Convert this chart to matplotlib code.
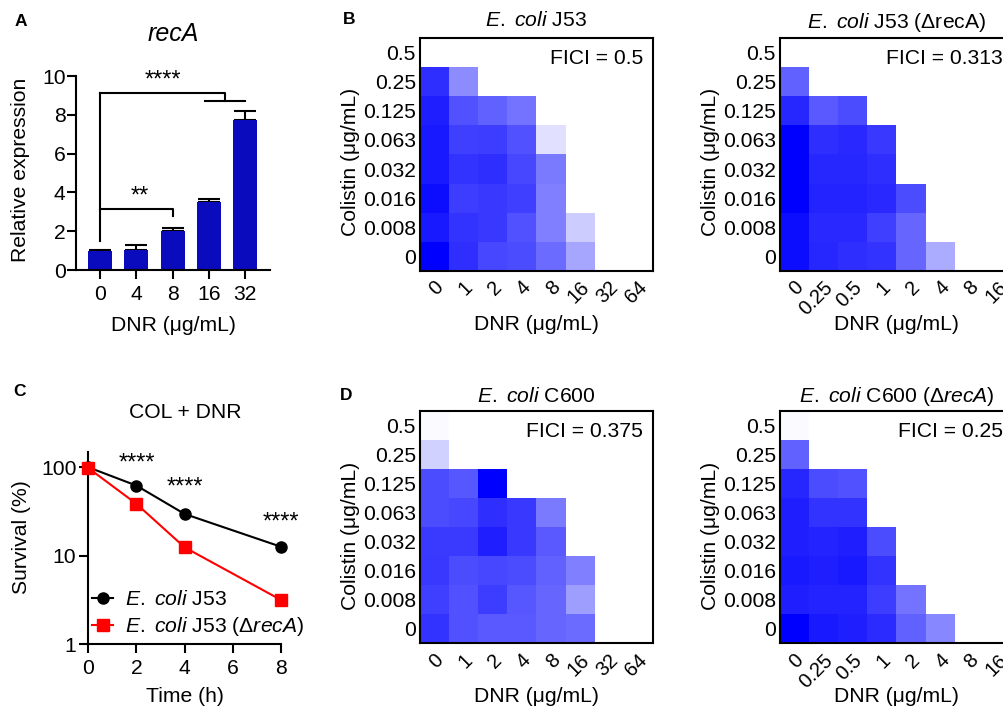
import numpy as np
import matplotlib
matplotlib.use('Agg')
import matplotlib.pyplot as plt
import matplotlib.transforms as mtransforms
from matplotlib.colors import LinearSegmentedColormap

plt.rcParams['font.family'] = ['Liberation Sans', 'DejaVu Sans']
plt.rcParams['mathtext.fontset'] = 'custom'
plt.rcParams['mathtext.rm'] = 'Liberation Sans'
plt.rcParams['mathtext.it'] = 'Liberation Sans:italic'
plt.rcParams['mathtext.bf'] = 'Liberation Sans:bold'
plt.rcParams['font.size'] = 15.2

# panel A: recA expression
dnr_a = ['0', '4', '8', '16', '32']
recA_mean = [1.0, 1.02, 2.0, 3.5, 7.75]
recA_err = [0.03, 0.26, 0.14, 0.17, 0.45]

# panel C: survival
time_h = [0, 2, 4, 8]
surv_j53 = [100, 62, 29.6, 12.6]
surv_reca = [98, 38.5, 12.4, 3.15]

# checkerboards (rows listed top -> bottom, 0 = no growth, 1 = full)
col_labels = ['0.5', '0.25', '0.125', '0.063', '0.032', '0.016', '0.008', '0']
dnr_wt = ['0', '1', '2', '4', '8', '16', '32', '64']
dnr_reca = ['0', '0.25', '0.5', '1', '2', '4', '8', '16']

growth_j53 = [
    [0, 0, 0, 0, 0, 0, 0, 0],
    [0.82, 0.45, 0, 0, 0, 0, 0, 0],
    [0.88, 0.68, 0.62, 0.55, 0, 0, 0, 0],
    [0.90, 0.75, 0.76, 0.68, 0.12, 0, 0, 0],
    [0.90, 0.80, 0.82, 0.72, 0.52, 0, 0, 0],
    [0.95, 0.76, 0.78, 0.75, 0.50, 0, 0, 0],
    [0.90, 0.80, 0.78, 0.68, 0.50, 0.20, 0, 0],
    [1.00, 0.82, 0.72, 0.70, 0.58, 0.35, 0, 0],
]
growth_j53_reca = [
    [0, 0, 0, 0, 0, 0, 0, 0],
    [0.62, 0, 0, 0, 0, 0, 0, 0],
    [0.85, 0.65, 0.70, 0, 0, 0, 0, 0],
    [1.00, 0.82, 0.84, 0.78, 0, 0, 0, 0],
    [1.00, 0.85, 0.85, 0.82, 0, 0, 0, 0],
    [1.00, 0.86, 0.86, 0.84, 0.70, 0, 0, 0],
    [0.95, 0.84, 0.84, 0.75, 0.60, 0, 0, 0],
    [0.95, 0.85, 0.82, 0.80, 0.60, 0.33, 0, 0],
]
growth_c600 = [
    [0.02, 0, 0, 0, 0, 0, 0, 0],
    [0.18, 0, 0, 0, 0, 0, 0, 0],
    [0.70, 0.66, 1.00, 0, 0, 0, 0, 0],
    [0.70, 0.72, 0.82, 0.78, 0.52, 0, 0, 0],
    [0.77, 0.77, 0.88, 0.78, 0.65, 0, 0, 0],
    [0.78, 0.70, 0.72, 0.70, 0.62, 0.50, 0, 0],
    [0.75, 0.68, 0.76, 0.66, 0.60, 0.38, 0, 0],
    [0.80, 0.68, 0.65, 0.65, 0.60, 0.58, 0, 0],
]
growth_c600_reca = [
    [0.02, 0, 0, 0, 0, 0, 0, 0],
    [0.62, 0, 0, 0, 0, 0, 0, 0],
    [0.85, 0.70, 0.68, 0, 0, 0, 0, 0],
    [0.88, 0.80, 0.80, 0, 0, 0, 0, 0],
    [0.88, 0.86, 0.88, 0.70, 0, 0, 0, 0],
    [0.90, 0.88, 0.90, 0.80, 0, 0, 0, 0],
    [0.88, 0.86, 0.86, 0.76, 0.55, 0, 0, 0],
    [1.00, 0.90, 0.88, 0.83, 0.62, 0.47, 0, 0],
]

W, H = 1004, 711
fig = plt.figure(figsize=(W / 100, H / 100), dpi=100)


def box(l, t, r, b):
    return [l / W, 1 - b / H, (r - l) / W, (b - t) / H]


def ftext(x, y, s, **kw):
    kw.setdefault('ha', 'center')
    kw.setdefault('va', 'center')
    fig.text(x / W, 1 - y / H, s, **kw)


# ---------- A ----------
axA = fig.add_axes(box(76, 76, 270, 270))
xa = np.arange(len(dnr_a))
axA.errorbar(xa, recA_mean, yerr=[np.zeros(len(xa)), recA_err], fmt='none',
             ecolor='black', elinewidth=1.5, capsize=8, capthick=1.5, zorder=1)
axA.bar(xa, recA_mean, width=0.66, color='#0B0BBE', zorder=2)
axA.set_xlim(-0.66, 4.68)
axA.set_ylim(0, 10)
axA.set_yticks([0, 2, 4, 6, 8, 10])
axA.set_xticks(xa)
axA.set_xticklabels(dnr_a)
for s in ['top', 'right']:
    axA.spines[s].set_visible(False)
for s in ['left', 'bottom']:
    axA.spines[s].set_linewidth(1.5)
axA.tick_params(width=1.5, length=6.5)
axA.tick_params(axis='y', pad=1)
axA.tick_params(axis='x', pad=4)
# significance brackets
kl = dict(color='black', lw=1.5, clip_on=False)
axA.plot([0, 0], [1.47, 9.14], **kl)
axA.plot([0, 3.45, 3.45], [9.14, 9.14, 8.71], **kl)
axA.plot([2.9, 4.0], [8.71, 8.71], **kl)
axA.plot([0, 2, 2], [3.16, 3.16, 2.76], **kl)
axA.text(1.74, 9.2, '****', ha='center', va='bottom', fontsize=17)
axA.text(1.1, 3.2, '**', ha='center', va='bottom', fontsize=17)
ftext(173, 34, 'recA', style='italic', fontsize=18)
ftext(21, 170, 'Relative expression', rotation=90)
ftext(173, 325, 'DNR (μg/mL)')

# ---------- C ----------
axC = fig.add_axes(box(88.3, 451.7, 281, 644))
axC.plot(time_h, surv_j53, color='black', lw=1.5, marker='o', ms=8,
         clip_on=False, zorder=3, label=r'$\it{E.\ coli}$ J53')
axC.plot(time_h, surv_reca, color='red', lw=1.5, marker='s', ms=8.4,
         clip_on=False, zorder=3, label=r'$\it{E.\ coli}$ J53 $\it{(ΔrecA)}$')
axC.set_yscale('log')
axC.set_ylim(1, 150)
axC.set_xlim(0, 8)
axC.set_xticks([0, 2, 4, 6, 8])
axC.set_yticks([1, 10, 100])
axC.set_yticklabels(['1', '10', '100'])
axC.yaxis.set_minor_locator(matplotlib.ticker.NullLocator())
for s in ['top', 'right']:
    axC.spines[s].set_visible(False)
for s in ['left', 'bottom']:
    axC.spines[s].set_linewidth(1.5)
axC.tick_params(width=1.5, length=6.5)
axC.tick_params(axis='y', pad=2)
axC.tick_params(axis='x', pad=4)
for xs, ys in [(2, 109), (4, 59), (8, 23.8)]:
    axC.text(xs, ys, '****', ha='center', va='center', fontsize=17)
axC.legend(loc='lower left', bbox_to_anchor=(0.02, 0.03), frameon=False,
           borderpad=0, borderaxespad=0, handlelength=1.0, handletextpad=0.56,
           labelspacing=0.3, fontsize=15.2)
ftext(185, 412, 'COL + DNR')
ftext(22, 537, 'Survival (%)', rotation=90)
ftext(185, 697, 'Time (h)')

# ---------- checkerboards ----------
cmap = LinearSegmentedColormap.from_list('wb', ['#FFFFFF', '#0000FF'])


def heat(ax, grid, xlabels, fici):
    g = np.array(grid)[::-1]
    ax.pcolormesh(np.arange(9), np.arange(9), g, cmap=cmap, vmin=0, vmax=1)
    ax.set_xlim(0, 8)
    ax.set_ylim(0, 8)
    ax.set_xticks(np.arange(8) + 0.5)
    ax.set_xticklabels(xlabels, rotation=45, ha='right', va='center',
                       rotation_mode='anchor', fontsize=14.5)
    ax.set_yticks(np.arange(8) + 0.5)
    ax.set_yticklabels(col_labels[::-1])
    ax.tick_params(axis='y', length=0, pad=3)
    ax.tick_params(axis='x', length=0, pad=10)
    off = mtransforms.ScaledTranslation(6 / 100, 0, fig.dpi_scale_trans)
    for lab in ax.get_xticklabels():
        lab.set_transform(lab.get_transform() + off)
    for s in ax.spines.values():
        s.set_linewidth(1.5)
    ax.text(1 - 10 / 233, 0.913, 'FICI = ' + fici, transform=ax.transAxes,
            ha='right', va='center')


axB = fig.add_axes(box(420, 38.3, 653, 270.7))
heat(axB, growth_j53, dnr_wt, '0.5')
axB2 = fig.add_axes(box(780, 38.3, 1013, 270.7))
heat(axB2, growth_j53_reca, dnr_reca, '0.313')
axD = fig.add_axes(box(420, 411, 653, 643.3))
heat(axD, growth_c600, dnr_wt, '0.375')
axD2 = fig.add_axes(box(780, 411, 1013, 643.3))
heat(axD2, growth_c600_reca, dnr_reca, '0.25')

ftext(536.5, 21, r'$\it{E.\ coli}$ J53')
ftext(896.5, 22, r'$\it{E.\ coli}$ J53 (ΔrecA)')
ftext(536.5, 396, r'$\it{E.\ coli}$ C600')
ftext(896.5, 397, r'$\it{E.\ coli}$ C600 (Δ$\it{recA}$)')

for x, y in [(350, 162), (710, 162), (350, 536), (711, 536)]:
    ftext(x, y, 'Colistin (μg/mL)', rotation=90)
for x, y in [(536.5, 324), (896.5, 324), (536.5, 697), (896.5, 697)]:
    ftext(x, y, 'DNR (μg/mL)')

# panel letters
for x, y, s in [(20.5, 21, 'A'), (349, 20, 'B'), (20, 392, 'C'), (346, 395, 'D')]:
    ftext(x, y, s, fontweight='bold', fontsize=12.5)

fig.savefig('out.png', dpi=100)
